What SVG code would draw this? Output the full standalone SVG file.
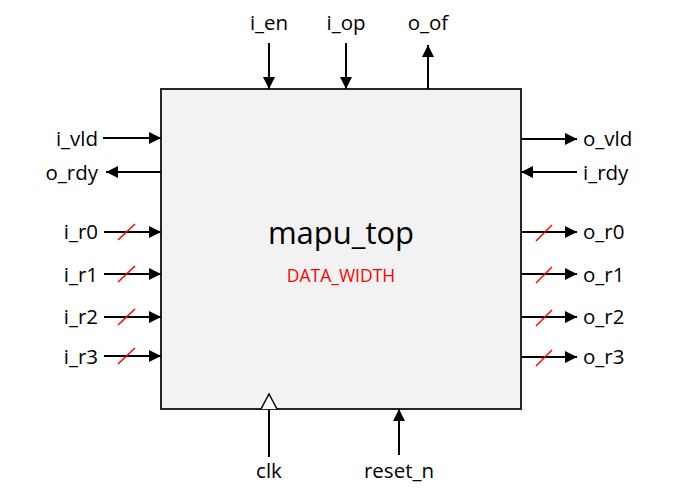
<svg xmlns="http://www.w3.org/2000/svg" width="682" height="499" viewBox="0 0 682 499">
<style>
.w{stroke:#000;stroke-width:2;fill:none}
.s{stroke:#ff0000;stroke-width:1.5}
.t{font-family:"Open Sans","Noto Sans",sans-serif;font-size:20.5px;fill:#000}
.e{text-anchor:end}
.m{text-anchor:middle}
</style>
<defs>
<marker id="a" viewBox="0 0 12 12" refX="12" refY="6" markerWidth="12" markerHeight="12" markerUnits="userSpaceOnUse" orient="auto">
<path d="M0,0 L12,6 L0,12 Z" fill="#000"/>
</marker>
</defs>
<g id="mapu_top">
<rect x="161" y="89" width="360" height="320" fill="#f2f2f2" stroke="#262626" stroke-width="2"/>
<text x="341" y="244" class="m" style="font-family:'Open Sans','Noto Sans',sans-serif;font-size:31px;fill:#000">mapu_top</text>
<text x="341" y="282" class="m" style="font-family:'Open Sans','Noto Sans',sans-serif;font-size:17.5px;fill:#ff0000">DATA_WIDTH</text>
</g>
<g id="connectors">
<line x1="103" y1="138" x2="161" y2="138" class="w" marker-end="url(#a)"/>
<line x1="161" y1="172" x2="106" y2="172" class="w" marker-end="url(#a)"/>
<line x1="104" y1="232" x2="161" y2="232" class="w" marker-end="url(#a)"/>
<line x1="104" y1="274" x2="161" y2="274" class="w" marker-end="url(#a)"/>
<line x1="104" y1="317" x2="161" y2="317" class="w" marker-end="url(#a)"/>
<line x1="104" y1="356" x2="161" y2="356" class="w" marker-end="url(#a)"/>
<line x1="118" y1="240" x2="135" y2="224" class="s"/>
<line x1="118" y1="282" x2="135" y2="266" class="s"/>
<line x1="118" y1="325" x2="135" y2="309" class="s"/>
<line x1="118" y1="364" x2="135" y2="348" class="s"/>
<line x1="521" y1="139" x2="577" y2="139" class="w" marker-end="url(#a)"/>
<line x1="577" y1="172" x2="521" y2="172" class="w" marker-end="url(#a)"/>
<line x1="521" y1="232" x2="577" y2="232" class="w" marker-end="url(#a)"/>
<line x1="521" y1="274" x2="577" y2="274" class="w" marker-end="url(#a)"/>
<line x1="521" y1="317" x2="577" y2="317" class="w" marker-end="url(#a)"/>
<line x1="521" y1="357" x2="577" y2="357" class="w" marker-end="url(#a)"/>
<line x1="536" y1="241" x2="552" y2="225" class="s"/>
<line x1="536" y1="283" x2="552" y2="267" class="s"/>
<line x1="536" y1="326" x2="552" y2="310" class="s"/>
<line x1="536" y1="366" x2="552" y2="350" class="s"/>
<line x1="269" y1="43" x2="269" y2="89" class="w" marker-end="url(#a)"/>
<line x1="346" y1="43" x2="346" y2="89" class="w" marker-end="url(#a)"/>
<line x1="428" y1="89" x2="428" y2="45" class="w" marker-end="url(#a)"/>
<line x1="269" y1="457" x2="269" y2="409" class="w"/>
<path d="M261,409 L269,394 L277,409" fill="#fff" stroke="#000" stroke-width="1.5"/>
<line x1="399" y1="455" x2="399" y2="409" class="w" marker-end="url(#a)"/>
</g>
<g id="labels">
<text x="98" y="146" class="t e">i_vld</text>
<text x="98" y="180" class="t e">o_rdy</text>
<text x="98" y="239" class="t e">i_r0</text>
<text x="98" y="282" class="t e">i_r1</text>
<text x="98" y="324" class="t e">i_r2</text>
<text x="98" y="364" class="t e">i_r3</text>
<text x="583" y="146" class="t">o_vld</text>
<text x="583" y="180" class="t">i_rdy</text>
<text x="583" y="239" class="t">o_r0</text>
<text x="583" y="282" class="t">o_r1</text>
<text x="583" y="324" class="t">o_r2</text>
<text x="583" y="364" class="t">o_r3</text>
<text x="269" y="30" class="t m">i_en</text>
<text x="346" y="30" class="t m">i_op</text>
<text x="428" y="30" class="t m">o_of</text>
<text x="269" y="478" class="t m">clk</text>
<text x="399" y="478" class="t m">reset_n</text>
</g>
</svg>
